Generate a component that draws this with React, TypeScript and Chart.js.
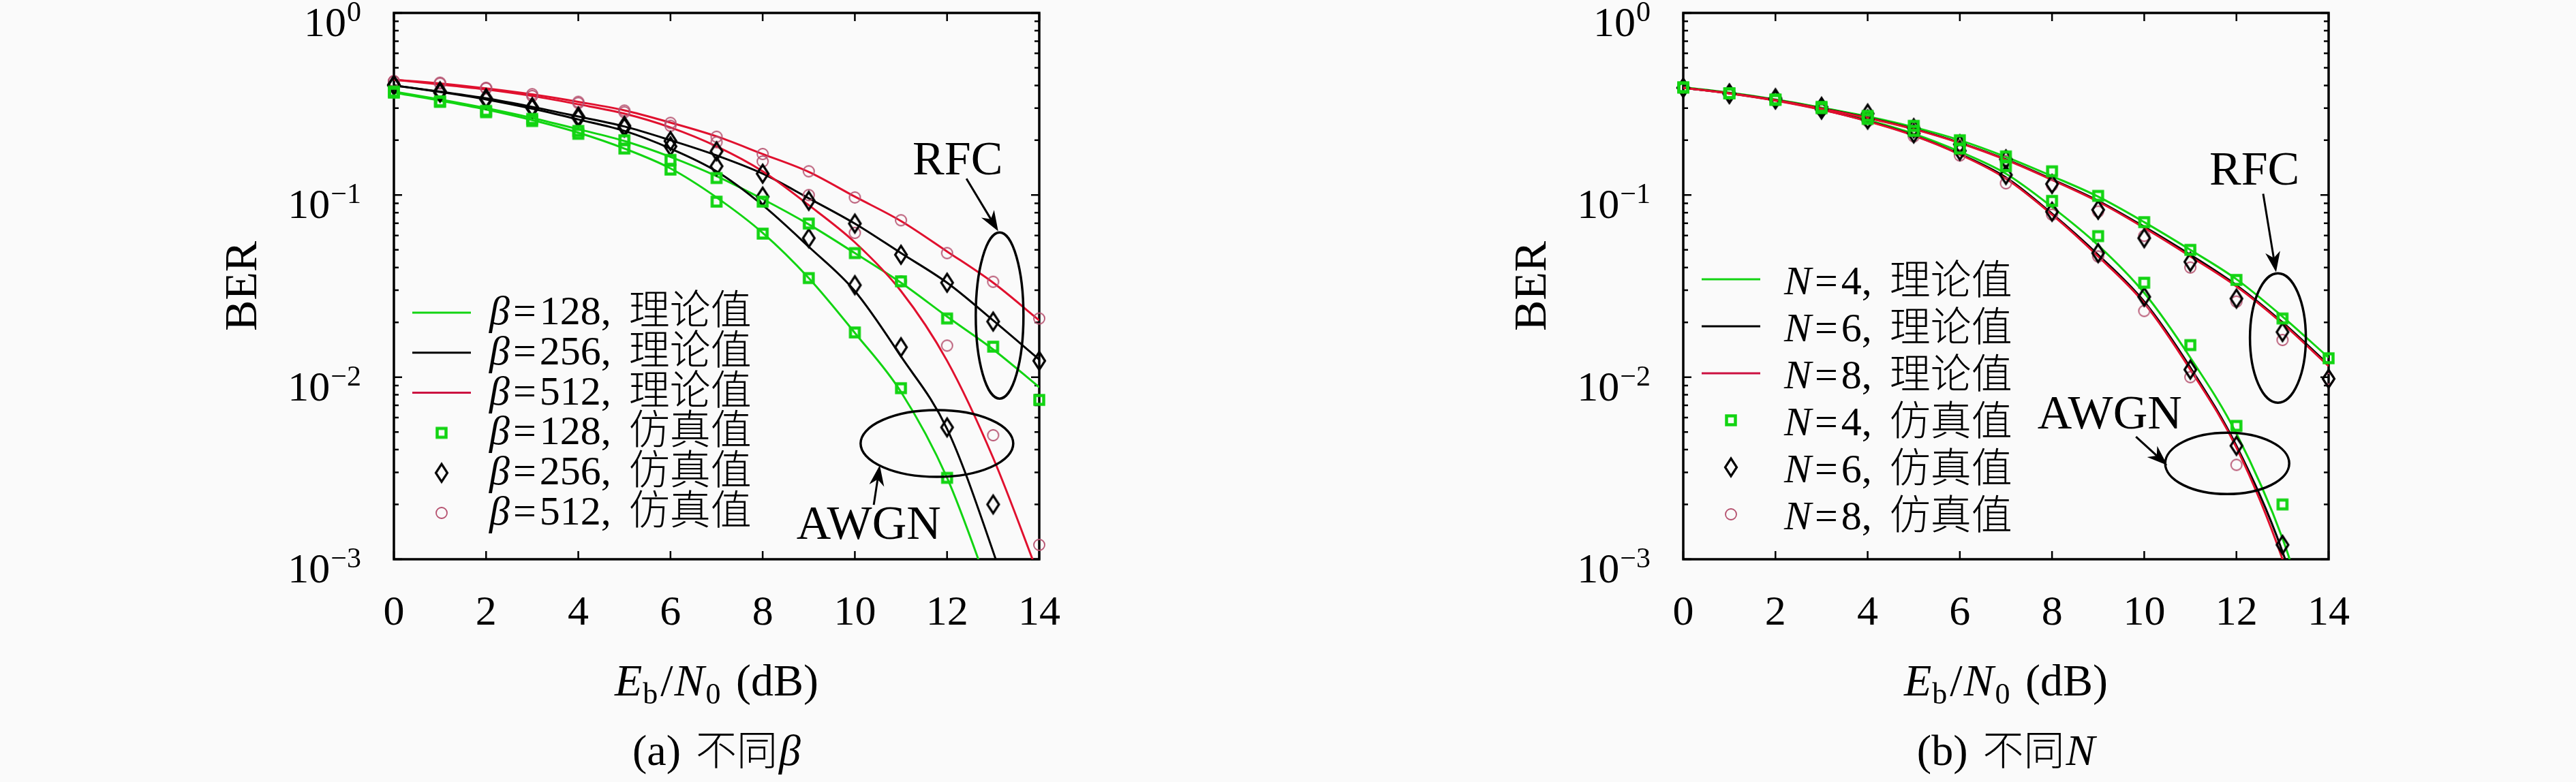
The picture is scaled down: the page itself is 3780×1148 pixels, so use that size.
import React, { useEffect, useRef } from "react";
import { Chart, registerables } from "chart.js";

Chart.register(...registerables);

// ---- data ----
const snr = [0, 1, 2, 3, 4, 5, 6, 7, 8, 9, 10, 11, 12, 13, 14];
const xTicks = [0, 2, 4, 6, 8, 10, 12, 14];
const yTicks = [1, 0.1, 0.01, 0.001];
const yTickExp = ["0", "\u22121", "\u22122", "\u22123"];

// (a) different beta
const betaValues = ["128", "256", "512"];
const aTheoryRfc128 = [0.37, 0.335, 0.3, 0.265, 0.23, 0.198, 0.162, 0.127, 0.095, 0.069, 0.048, 0.033, 0.0215, 0.0142, 0.0088];
const aTheoryAwgn128 = [0.365, 0.33, 0.295, 0.258, 0.22, 0.18, 0.14, 0.097, 0.062, 0.035, 0.0175, 0.0083, 0.0028, 0.0006, null];
const aTheoryRfc256 = [0.4, 0.37, 0.34, 0.305, 0.27, 0.238, 0.2, 0.165, 0.131, 0.096, 0.0697, 0.048, 0.033, 0.0205, 0.0125];
const aTheoryAwgn256 = [0.4, 0.368, 0.335, 0.298, 0.26, 0.225, 0.18, 0.135, 0.088, 0.052, 0.0297, 0.013, 0.0052, 0.0011, 0.00018];
const aTheoryRfc512 = [0.43, 0.41, 0.385, 0.357, 0.325, 0.292, 0.25, 0.21, 0.168, 0.134, 0.098, 0.072, 0.049, 0.033, 0.0205];
const aTheoryAwgn512 = [0.43, 0.405, 0.38, 0.35, 0.315, 0.28, 0.235, 0.185, 0.135, 0.088, 0.055, 0.0297, 0.0123, 0.0036, 0.0008];
const aSimRfc128 = [0.37, 0.327, 0.29, 0.262, 0.225, 0.2, 0.156, 0.124, 0.092, 0.0697, 0.048, 0.0336, 0.021, 0.0147, 0.0075];
const aSimAwgn128 = [0.365, 0.325, 0.285, 0.255, 0.217, 0.18, 0.138, 0.092, 0.0614, 0.035, 0.0176, 0.0087, 0.0028, null, null];
const aSimRfc256 = [0.403, 0.371, 0.34, 0.304, 0.27, 0.24, 0.198, 0.174, 0.131, 0.093, 0.0697, 0.047, 0.033, 0.0202, 0.0123];
const aSimAwgn256 = [0.4, 0.365, 0.335, 0.3, 0.265, 0.235, 0.185, 0.144, 0.098, 0.058, 0.032, 0.0146, 0.0053, 0.002, null];
const aSimRfc512 = [0.423, 0.414, 0.388, 0.358, 0.325, 0.291, 0.249, 0.209, 0.168, 0.135, 0.097, 0.0727, 0.048, 0.0334, 0.021];
const aSimAwgn512 = [0.42, 0.41, 0.385, 0.35, 0.32, 0.285, 0.24, 0.195, 0.153, 0.1, 0.062, 0.0336, 0.0149, 0.0048, 0.0012];

// (b) different N
const nValues = ["4", "6", "8"];
const bTheoryRfc4 = [0.39, 0.365, 0.335, 0.302, 0.27, 0.236, 0.2, 0.162, 0.127, 0.098, 0.071, 0.05, 0.0345, 0.0215, 0.0128];
const bTheoryAwgn4 = [0.39, 0.364, 0.333, 0.298, 0.258, 0.217, 0.173, 0.131, 0.086, 0.053, 0.029, 0.0128, 0.0049, 0.0013, 0.0002];
const bTheoryRfc6 = [0.388, 0.363, 0.333, 0.299, 0.266, 0.231, 0.194, 0.157, 0.122, 0.093, 0.067, 0.047, 0.032, 0.02, 0.0117];
const bTheoryAwgn6 = [0.388, 0.362, 0.331, 0.295, 0.255, 0.213, 0.168, 0.125, 0.079, 0.047, 0.026, 0.0113, 0.0042, 0.0011, 0.00016];
const bTheoryRfc8 = [0.388, 0.362, 0.332, 0.298, 0.265, 0.23, 0.193, 0.156, 0.121, 0.092, 0.066, 0.046, 0.0315, 0.0197, 0.0115];
const bTheoryAwgn8 = [0.388, 0.361, 0.33, 0.294, 0.254, 0.212, 0.167, 0.123, 0.078, 0.046, 0.0255, 0.011, 0.0041, 0.001, 0.00015];
const bSimRfc4 = [0.39, 0.362, 0.335, 0.305, 0.272, 0.24, 0.2, 0.163, 0.135, 0.099, 0.071, 0.05, 0.0342, 0.021, 0.0127];
const bSimAwgn4 = [0.39, 0.362, 0.333, 0.3, 0.262, 0.225, 0.18, 0.144, 0.0929, 0.0595, 0.033, 0.015, 0.0054, 0.002, null];
const bSimRfc6 = [0.388, 0.36, 0.34, 0.305, 0.28, 0.233, 0.19, 0.157, 0.115, 0.083, 0.058, 0.043, 0.027, 0.0177, 0.0098];
const bSimAwgn6 = [0.388, 0.36, 0.335, 0.295, 0.26, 0.218, 0.175, 0.129, 0.081, 0.048, 0.0276, 0.011, 0.0042, 0.0012, null];
const bSimRfc8 = [0.388, 0.362, 0.332, 0.298, 0.265, 0.232, 0.187, 0.154, 0.113, 0.0812, 0.0597, 0.04, 0.026, 0.016, 0.0098];
const bSimAwgn8 = [0.388, 0.36, 0.33, 0.292, 0.255, 0.21, 0.165, 0.116, 0.078, 0.046, 0.0231, 0.01, 0.0033, null, null];

// annotation anchors in data units: [x, BER]
const aRfcEllipse = [13.14, 0.0218];
const aRfcLabel = [12.23, 0.16];
const aRfcArrow = [12.42, 0.123, 13.11, 0.0632];
const aAwgnEllipse = [11.78, 0.00432];
const aAwgnLabel = [10.3, 0.00159];
const aAwgnArrow = [10.41, 0.00199, 10.54, 0.00328];
const bRfcEllipse = [12.9, 0.0164];
const bRfcLabel = [12.39, 0.1407];
const bRfcArrow = [12.58, 0.1015, 12.86, 0.0377];
const bAwgnEllipse = [11.8, 0.00336];
const bAwgnLabel = [9.25, 0.00641];
const bAwgnArrow = [9.82, 0.00471, 10.5, 0.00328];

// ---- styles ----
const GREEN = "#12d412";
const BLACK = "#000000";
const RED = "#e0102e";
const RED_LEGEND = "#cc1040";
const PINK = "#b5506e";
const W = 1890;
const H = 1148;

const serif = (px: number, italic = false) =>
  `${italic ? "italic " : ""}${px}px "Liberation Serif", "DejaVu Serif", serif`;
const cjk = (px: number) => `300 ${px}px "Noto Sans CJK SC", "Noto Sans CJK JP", sans-serif`;

type Seg = { t: string; font: string; dy?: number; gap?: number };

function drawSegs(ctx: CanvasRenderingContext2D, segs: Seg[], x: number, y: number, align: string) {
  let w = 0;
  for (const s of segs) {
    ctx.font = s.font;
    w += ctx.measureText(s.t).width + (s.gap || 0);
  }
  let cx = align === "left" ? x : align === "center" ? x - w / 2 : x - w;
  ctx.textAlign = "left";
  ctx.textBaseline = "alphabetic";
  for (const s of segs) {
    ctx.font = s.font;
    ctx.fillText(s.t, cx, y + (s.dy || 0));
    cx += ctx.measureText(s.t).width + (s.gap || 0);
  }
}

function makeMarker(kind: string): HTMLCanvasElement {
  const c = document.createElement("canvas");
  if (kind === "square") {
    c.width = 26;
    c.height = 26;
    const ctx = c.getContext("2d")!;
    ctx.strokeStyle = GREEN;
    ctx.lineWidth = 4.5;
    ctx.strokeRect(6.5, 6.5, 13, 13);
  } else if (kind === "diamond") {
    c.width = 32;
    c.height = 42;
    const ctx = c.getContext("2d")!;
    ctx.strokeStyle = BLACK;
    ctx.lineWidth = 3.2;
    ctx.beginPath();
    ctx.moveTo(16, 8);
    ctx.lineTo(24.5, 21);
    ctx.lineTo(16, 34);
    ctx.lineTo(7.5, 21);
    ctx.closePath();
    ctx.stroke();
  } else {
    c.width = 24;
    c.height = 24;
    const ctx = c.getContext("2d")!;
    ctx.strokeStyle = PINK;
    ctx.lineWidth = 1.8;
    ctx.beginPath();
    ctx.arc(12, 12, 8, 0, Math.PI * 2);
    ctx.stroke();
  }
  return c;
}

function toPoints(ys: (number | null)[]) {
  return snr.map((x, i) => ({ x, y: ys[i] }));
}

type Note = { ellipse: number[]; rx: number; ry: number; label: number[]; text: string; arrow: number[] };

type PanelCfg = {
  theory: (number | null)[][][]; // per series: [rfc, awgn]
  sims: (number | null)[][][];
  varName: string;
  values: string[];
  caption: string;
  notes: Note[];
  padLeft: number;
  legendRow0: number;
  legendStep: number;
  legendBase: number;
  legendText: number;
};

const panelA: PanelCfg = {
  theory: [
    [aTheoryRfc128, aTheoryAwgn128],
    [aTheoryRfc256, aTheoryAwgn256],
    [aTheoryRfc512, aTheoryAwgn512],
  ],
  sims: [
    [aSimRfc128, aSimAwgn128],
    [aSimRfc256, aSimAwgn256],
    [aSimRfc512, aSimAwgn512],
  ],
  varName: "\u03b2",
  values: betaValues,
  caption: "a",
  notes: [
    { ellipse: aRfcEllipse, rx: 35, ry: 122, label: aRfcLabel, text: "RFC", arrow: aRfcArrow },
    { ellipse: aAwgnEllipse, rx: 112, ry: 49, label: aAwgnLabel, text: "AWGN", arrow: aAwgnArrow },
  ],
  padLeft: 578,
  legendRow0: 440,
  legendStep: 58.8,
  legendBase: 17,
  legendText: 140,
};

const panelB: PanelCfg = {
  theory: [
    [bTheoryRfc4, bTheoryAwgn4],
    [bTheoryRfc6, bTheoryAwgn6],
    [bTheoryRfc8, bTheoryAwgn8],
  ],
  sims: [
    [bSimRfc4, bSimAwgn4],
    [bSimRfc6, bSimAwgn6],
    [bSimRfc8, bSimAwgn8],
  ],
  varName: "N",
  values: nValues,
  caption: "b",
  notes: [
    { ellipse: bRfcEllipse, rx: 41, ry: 95, label: bRfcLabel, text: "RFC", arrow: bRfcArrow },
    { ellipse: bAwgnEllipse, rx: 91, ry: 45, label: bAwgnLabel, text: "AWGN", arrow: bAwgnArrow },
  ],
  padLeft: 580,
  legendRow0: 391,
  legendStep: 69,
  legendBase: 22,
  legendText: 148,
};

function drawArrow(ctx: CanvasRenderingContext2D, fx: number, fy: number, tx: number, ty: number) {
  const ang = Math.atan2(ty - fy, tx - fx);
  const dx = Math.cos(ang);
  const dy = Math.sin(ang);
  const L = 30;
  const hw = 11;
  const notch = 9;
  ctx.strokeStyle = BLACK;
  ctx.fillStyle = BLACK;
  ctx.lineWidth = 3;
  ctx.beginPath();
  ctx.moveTo(fx, fy);
  ctx.lineTo(tx - dx * (L - notch), ty - dy * (L - notch));
  ctx.stroke();
  ctx.beginPath();
  ctx.moveTo(tx, ty);
  ctx.lineTo(tx - dx * L - dy * hw, ty - dy * L + dx * hw);
  ctx.lineTo(tx - dx * (L - notch), ty - dy * (L - notch));
  ctx.lineTo(tx - dx * L + dy * hw, ty - dy * L - dx * hw);
  ctx.closePath();
  ctx.fill();
}

function makePlugin(cfg: PanelCfg, markers: HTMLCanvasElement[]) {
  return {
    id: "matlabFrame",
    beforeDatasetsDraw(chart: any) {
      const { ctx, chartArea: a, scales } = chart;
      const xs = scales.x;
      const ys = scales.y;
      ctx.save();
      ctx.strokeStyle = BLACK;
      ctx.lineWidth = 2.5;
      // inward ticks on all four sides
      ctx.beginPath();
      for (const t of xTicks) {
        const px = xs.getPixelForValue(t);
        ctx.moveTo(px, a.bottom);
        ctx.lineTo(px, a.bottom - 12);
        ctx.moveTo(px, a.top);
        ctx.lineTo(px, a.top + 12);
      }
      for (let e = -3; e <= 0; e++) {
        for (let m = 1; m <= 9; m++) {
          const v = m * Math.pow(10, e);
          if (e === 0 && m > 1) continue;
          const py = ys.getPixelForValue(v);
          const len = m === 1 ? 12 : 7;
          ctx.moveTo(a.left, py);
          ctx.lineTo(a.left + len, py);
          ctx.moveTo(a.right, py);
          ctx.lineTo(a.right - len, py);
        }
      }
      ctx.stroke();
      ctx.lineWidth = 3.5;
      ctx.strokeRect(a.left, a.top, a.right - a.left, a.bottom - a.top);
      ctx.restore();
    },
    afterDraw(chart: any) {
      const { ctx, chartArea: a, scales } = chart;
      const xs = scales.x;
      const ys = scales.y;
      ctx.save();
      ctx.fillStyle = BLACK;
      // y tick labels
      yTicks.forEach((v, i) => {
        const py = ys.getPixelForValue(v);
        const segs: Seg[] = [
          { t: "10", font: serif(62), gap: 1 },
          { t: yTickExp[i], font: serif(42), dy: -22 },
        ];
        drawSegs(ctx, segs, a.left - 48, py + 34, "right");
      });
      // x tick labels
      ctx.font = serif(62);
      ctx.textAlign = "center";
      ctx.textBaseline = "alphabetic";
      for (const t of xTicks) {
        ctx.fillText(String(t), xs.getPixelForValue(t), a.bottom + 96);
      }
      const cx = (a.left + a.right) / 2;
      // x title
      drawSegs(
        ctx,
        [
          { t: "E", font: serif(66, true), gap: 1 },
          { t: "b", font: serif(44), dy: 12, gap: 4 },
          { t: "/", font: serif(66), gap: 2 },
          { t: "N", font: serif(66, true), gap: 2 },
          { t: "0", font: serif(44), dy: 12, gap: 6 },
          { t: " (dB)", font: serif(66) },
        ],
        cx,
        a.bottom + 200,
        "center"
      );
      // caption
      drawSegs(
        ctx,
        [
          { t: "(" + cfg.caption + ") ", font: serif(64), gap: 6 },
          { t: "\u4e0d\u540c", font: cjk(60), gap: 2 },
          { t: cfg.varName, font: serif(64, true) },
        ],
        cx,
        a.bottom + 302,
        "center"
      );
      // y title
      ctx.save();
      ctx.translate(a.left - 220, (a.top + a.bottom) / 2);
      ctx.rotate(-Math.PI / 2);
      ctx.font = serif(68);
      ctx.textAlign = "center";
      ctx.textBaseline = "middle";
      ctx.fillText("BER", 0, 0);
      ctx.restore();

      // legend
      const lineColors = [GREEN, BLACK, RED_LEGEND];
      for (let r = 0; r < 6; r++) {
        const y = a.top + cfg.legendRow0 + r * cfg.legendStep;
        const k = r % 3;
        if (r < 3) {
          ctx.strokeStyle = lineColors[k];
          ctx.lineWidth = 3;
          ctx.beginPath();
          ctx.moveTo(a.left + 27, y);
          ctx.lineTo(a.left + 113, y);
          ctx.stroke();
        } else {
          const m = markers[k];
          ctx.drawImage(m, a.left + 70 - m.width / 2, y - m.height / 2);
        }
        ctx.fillStyle = BLACK;
        drawSegs(
          ctx,
          [
            { t: cfg.varName, font: serif(60, true), gap: 5 },
            { t: "=", font: serif(60), gap: 5 },
            { t: cfg.values[k] + ",", font: serif(60), gap: 26 },
            { t: r < 3 ? "\u7406\u8bba\u503c" : "\u4eff\u771f\u503c", font: cjk(60) },
          ],
          a.left + cfg.legendText,
          y + cfg.legendBase,
          "left"
        );
      }

      // annotations
      for (const n of cfg.notes) {
        const ex = xs.getPixelForValue(n.ellipse[0]);
        const ey = ys.getPixelForValue(n.ellipse[1]);
        ctx.strokeStyle = BLACK;
        ctx.lineWidth = 3.5;
        ctx.beginPath();
        ctx.ellipse(ex, ey, n.rx, n.ry, 0, 0, Math.PI * 2);
        ctx.stroke();
        ctx.fillStyle = BLACK;
        ctx.font = serif(70);
        ctx.textAlign = "center";
        ctx.textBaseline = "alphabetic";
        ctx.fillText(n.text, xs.getPixelForValue(n.label[0]), ys.getPixelForValue(n.label[1]) + 24);
        drawArrow(
          ctx,
          xs.getPixelForValue(n.arrow[0]),
          ys.getPixelForValue(n.arrow[1]),
          xs.getPixelForValue(n.arrow[2]),
          ys.getPixelForValue(n.arrow[3])
        );
      }
      ctx.restore();
    },
  };
}

function buildConfig(cfg: PanelCfg): any {
  const markers = [makeMarker("square"), makeMarker("diamond"), makeMarker("circle")];
  const colors = [GREEN, BLACK, RED];
  const datasets: any[] = [];
  cfg.sims.forEach((pair, k) => {
    pair.forEach((ys) => {
      datasets.push({
        data: toPoints(ys),
        showLine: false,
        pointStyle: markers[k],
        pointRadius: 9,
        borderColor: colors[k],
        backgroundColor: "transparent",
        clip: false,
        order: 0,
      });
    });
  });
  cfg.theory.forEach((pair, k) => {
    pair.forEach((ys) => {
      datasets.push({
        data: toPoints(ys),
        borderColor: colors[k],
        borderWidth: 3,
        pointRadius: 0,
        cubicInterpolationMode: "monotone",
        fill: false,
        order: 1 + (2 - k) * 0.1,
      });
    });
  });
  return {
    type: "line",
    data: { datasets },
    options: {
      animation: false,
      responsive: false,
      devicePixelRatio: 1,
      events: [],
      layout: {
        padding: { left: cfg.padLeft, right: W - cfg.padLeft - 947, top: 19, bottom: H - 821 },
      },
      plugins: { legend: { display: false }, tooltip: { enabled: false } },
      scales: {
        x: { type: "linear", min: 0, max: 14, display: false },
        y: { type: "logarithmic", min: 0.001, max: 1, display: false },
      },
    },
    plugins: [makePlugin(cfg, markers)],
  };
}

function Panel({ cfg, left }: { cfg: PanelCfg; left: number }) {
  const canvasRef = useRef<HTMLCanvasElement | null>(null);
  useEffect(() => {
    if (!canvasRef.current) return;
    const chart = new Chart(canvasRef.current, buildConfig(cfg));
    return () => chart.destroy();
  }, [cfg]);
  return (
    <canvas
      ref={canvasRef}
      width={W}
      height={H}
      style={{ position: "absolute", left, top: 0, width: W, height: H }}
    />
  );
}

export default function App() {
  useEffect(() => {
    document.body.style.margin = "0";
  }, []);
  return (
    <div style={{ position: "relative", width: 3780, height: 1148, background: "#fafafa", overflow: "hidden" }}>
      <Panel cfg={panelA} left={0} />
      <Panel cfg={panelB} left={W} />
    </div>
  );
}
